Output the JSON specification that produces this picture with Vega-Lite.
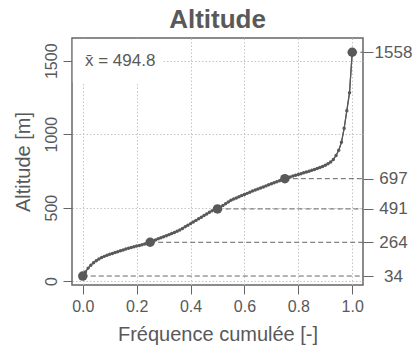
{
  "$schema": "https://vega.github.io/schema/vega-lite/v6.json",
  "width": 291,
  "height": 247,
  "autosize": {"type": "none"},
  "padding": {"left": 72, "top": 38, "right": 54, "bottom": 65},
  "background": "white",
  "title": {"text": "Altitude", "fontSize": 26, "fontWeight": "bold", "color": "#595959", "font": "Liberation Sans", "anchor": "middle", "offset": 5},
  "config": {
    "font": "Liberation Sans",
    "view": {"stroke": "#666666", "strokeWidth": 1.5},
    "axis": {"domain": false, "tickColor": "#666666", "tickWidth": 1, "labelColor": "#595959", "titleColor": "#595959", "labelFont": "Liberation Sans", "titleFont": "Liberation Sans", "labelFontSize": 16, "titleFontSize": 20, "titleFontWeight": "normal", "gridColor": "#c4c4c4", "gridDash": [1.5, 2], "gridWidth": 1}
  },
  "datasets": {
    "curve": [
      {"p": 0.00, "alt": 34}, {"p": 0.01, "alt": 62}, {"p": 0.02, "alt": 88}, {"p": 0.03, "alt": 108}, {"p": 0.04, "alt": 125},
      {"p": 0.05, "alt": 138}, {"p": 0.06, "alt": 150}, {"p": 0.07, "alt": 160}, {"p": 0.08, "alt": 168}, {"p": 0.09, "alt": 175},
      {"p": 0.10, "alt": 182}, {"p": 0.11, "alt": 188}, {"p": 0.12, "alt": 194}, {"p": 0.13, "alt": 200}, {"p": 0.14, "alt": 206},
      {"p": 0.15, "alt": 212}, {"p": 0.16, "alt": 218}, {"p": 0.17, "alt": 223}, {"p": 0.18, "alt": 228}, {"p": 0.19, "alt": 233},
      {"p": 0.20, "alt": 238}, {"p": 0.21, "alt": 242}, {"p": 0.22, "alt": 247}, {"p": 0.23, "alt": 252}, {"p": 0.24, "alt": 258},
      {"p": 0.25, "alt": 264}, {"p": 0.26, "alt": 272}, {"p": 0.27, "alt": 280}, {"p": 0.28, "alt": 288}, {"p": 0.29, "alt": 295},
      {"p": 0.30, "alt": 302}, {"p": 0.31, "alt": 309}, {"p": 0.32, "alt": 316}, {"p": 0.33, "alt": 323}, {"p": 0.34, "alt": 331},
      {"p": 0.35, "alt": 339}, {"p": 0.36, "alt": 348}, {"p": 0.37, "alt": 358}, {"p": 0.38, "alt": 369}, {"p": 0.39, "alt": 380},
      {"p": 0.40, "alt": 391}, {"p": 0.41, "alt": 402}, {"p": 0.42, "alt": 413}, {"p": 0.43, "alt": 424}, {"p": 0.44, "alt": 435},
      {"p": 0.45, "alt": 446}, {"p": 0.46, "alt": 457}, {"p": 0.47, "alt": 468}, {"p": 0.48, "alt": 478}, {"p": 0.49, "alt": 485},
      {"p": 0.50, "alt": 491}, {"p": 0.51, "alt": 502}, {"p": 0.52, "alt": 514}, {"p": 0.53, "alt": 526}, {"p": 0.54, "alt": 538},
      {"p": 0.55, "alt": 550}, {"p": 0.56, "alt": 558}, {"p": 0.57, "alt": 566}, {"p": 0.58, "alt": 574}, {"p": 0.59, "alt": 582},
      {"p": 0.60, "alt": 590}, {"p": 0.61, "alt": 597}, {"p": 0.62, "alt": 605}, {"p": 0.63, "alt": 613}, {"p": 0.64, "alt": 620},
      {"p": 0.65, "alt": 627}, {"p": 0.66, "alt": 634}, {"p": 0.67, "alt": 641}, {"p": 0.68, "alt": 648}, {"p": 0.69, "alt": 655},
      {"p": 0.70, "alt": 662}, {"p": 0.71, "alt": 669}, {"p": 0.72, "alt": 676}, {"p": 0.73, "alt": 683}, {"p": 0.74, "alt": 690},
      {"p": 0.75, "alt": 697}, {"p": 0.76, "alt": 703}, {"p": 0.77, "alt": 709}, {"p": 0.78, "alt": 715}, {"p": 0.79, "alt": 720},
      {"p": 0.80, "alt": 726}, {"p": 0.81, "alt": 731}, {"p": 0.82, "alt": 737}, {"p": 0.83, "alt": 742}, {"p": 0.84, "alt": 748},
      {"p": 0.85, "alt": 754}, {"p": 0.86, "alt": 760}, {"p": 0.87, "alt": 766}, {"p": 0.88, "alt": 773}, {"p": 0.89, "alt": 780},
      {"p": 0.90, "alt": 788}, {"p": 0.91, "alt": 798}, {"p": 0.92, "alt": 810}, {"p": 0.93, "alt": 828}, {"p": 0.94, "alt": 855},
      {"p": 0.95, "alt": 890}, {"p": 0.96, "alt": 945}, {"p": 0.97, "alt": 1040}, {"p": 0.98, "alt": 1160}, {"p": 0.99, "alt": 1283},
      {"p": 1.00, "alt": 1558}
    ],
    "quart": [
      {"p": 0.00, "alt": 34}, {"p": 0.25, "alt": 264}, {"p": 0.50, "alt": 491}, {"p": 0.75, "alt": 697}, {"p": 1.00, "alt": 1558}
    ],
    "meanlabel": [{"label": "x\u0304 = 494.8"}]
  },
  "layer": [
    {
      "data": {"name": "curve"},
      "mark": {"type": "line", "color": "#595959", "strokeWidth": 1.2},
      "encoding": {
        "x": {"field": "p", "type": "quantitative", "scale": {"domain": [-0.04, 1.04], "nice": false, "zero": false},
          "axis": {"values": [0, 0.2, 0.4, 0.6, 0.8, 1], "format": ".1f", "title": "Fréquence cumulée [-]", "tickSize": 9, "labelPadding": 4, "titlePadding": 10, "grid": true}},
        "y": {"field": "alt", "type": "quantitative", "scale": {"domain": [-27, 1655], "nice": false, "zero": false},
          "axis": {"orient": "left", "values": [0, 500, 1000, 1500], "format": "d", "title": "Altitude [m]", "labelAngle": -90, "labelAlign": "center", "labelBaseline": "bottom", "tickSize": 9, "labelPadding": 4, "titlePadding": 10, "grid": true}}
      }
    },
    {
      "data": {"name": "meanlabel"},
      "mark": {"type": "rect", "color": "white", "opacity": 1},
      "encoding": {
        "x": {"datum": -0.037, "type": "quantitative"},
        "x2": {"datum": 0.298},
        "y": {"datum": 1354, "type": "quantitative", "axis": null},
        "y2": {"datum": 1648}
      }
    },
    {
      "data": {"name": "meanlabel"},
      "mark": {"type": "text", "align": "left", "baseline": "middle", "fontSize": 17, "color": "#595959", "font": "Liberation Sans"},
      "encoding": {
        "x": {"datum": 0.008, "type": "quantitative"},
        "y": {"datum": 1500, "type": "quantitative", "axis": null},
        "text": {"field": "label"}
      }
    },
    {
      "data": {"name": "quart"},
      "mark": {"type": "rule", "color": "#666666", "strokeWidth": 1, "strokeDash": [5, 3]},
      "encoding": {
        "x": {"field": "p", "type": "quantitative"},
        "x2": {"datum": 1.04},
        "y": {"field": "alt", "type": "quantitative", "axis": null}
      }
    },
    {
      "data": {"name": "curve"},
      "mark": {"type": "line", "color": "#595959", "strokeWidth": 1.2},
      "encoding": {
        "x": {"field": "p", "type": "quantitative"},
        "y": {"field": "alt", "type": "quantitative", "axis": null}
      }
    },
    {
      "data": {"name": "curve"},
      "mark": {"type": "point", "filled": true, "size": 12, "color": "#595959", "opacity": 1},
      "encoding": {
        "x": {"field": "p", "type": "quantitative"},
        "y": {"field": "alt", "type": "quantitative", "axis": null}
      }
    },
    {
      "data": {"name": "quart"},
      "mark": {"type": "point", "filled": true, "size": 90, "color": "#595959", "opacity": 1},
      "encoding": {
        "x": {"field": "p", "type": "quantitative"},
        "y": {"field": "alt", "type": "quantitative",
          "axis": {"orient": "right", "values": [34, 264, 491, 697, 1558], "format": "d", "title": null, "grid": false, "tickSize": 10, "labelAlign": "center", "labelPadding": 20, "labelFontSize": 17}}
      }
    }
  ],
  "resolve": {"axis": {"y": "independent"}}
}
